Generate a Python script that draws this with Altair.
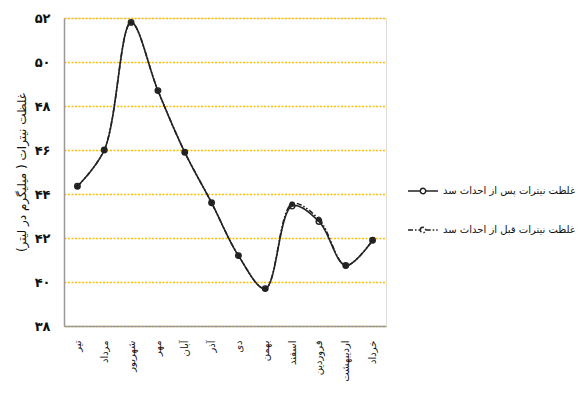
import altair as alt
import pandas as pd

# Months (Persian calendar), Tir through Khordad
months = ["تیر", "مرداد", "شهریور", "مهر", "آبان", "آذر",
          "دی", "بهمن", "اسفند", "فروردین", "اردیبهشت", "خرداد"]

# Nitrate concentration (mg/L)
after_dam = [44.35, 46.0, 51.8, 48.7, 45.9, 43.6, 41.2, 39.7, 43.45, 42.75, 40.75, 41.9]
before_dam = [44.35, 46.0, 51.8, 48.7, 45.9, 43.6, 41.2, 39.7, 43.55, 42.85, 40.75, 41.9]

series_after = "غلظت نیترات پس از احداث سد"
series_before = "غلظت نیترات قبل از احداث سد"

y_ticks = [38, 40, 42, 44, 46, 48, 50, 52]
y_tick_labels = ["۳۸", "۴۰", "۴۲", "۴۴", "۴۶", "۴۸", "۵۰", "۵۲"]

df = pd.DataFrame({
    "month": months * 2,
    "order": list(range(12)) * 2,
    "value": after_dam + before_dam,
    "series": [series_after] * 12 + [series_before] * 12,
})

label_map = "{" + ",".join(f"'{t}':'{l}'" for t, l in zip(y_ticks, y_tick_labels)) + "}"

FONT = "DejaVu Sans"
INK = "#222222"

x_enc = alt.X(
    "month:N", sort=months, title=None,
    scale=alt.Scale(paddingInner=0, paddingOuter=0.5),
    axis=alt.Axis(labelAngle=270, labelPadding=14, ticks=False,
                  domainColor="#999999", domainWidth=1.5,
                  labelFont=FONT, labelFontSize=10, labelColor="#111111",
                  grid=False),
)
y_enc = alt.Y(
    "value:Q", title="غلظت نیترات ( میلیگرم در لیتر)",
    scale=alt.Scale(domain=[38, 52], nice=False, zero=False),
    axis=alt.Axis(values=y_ticks, labelExpr=f"{label_map}[datum.label]",
                  ticks=False, labelPadding=14, domainColor="#999999", domainWidth=1.5,
                  labelFont=FONT, labelFontSize=13, labelFontWeight="bold",
                  labelColor="#111111",
                  titleFont=FONT, titleFontSize=12, titleFontWeight="normal",
                  titleColor="#111111", titlePadding=6,
                  grid=True, gridColor="#FFC000", gridDash=[2, 1.5], gridWidth=1.5),
)

# legend glyph: a short line with a small ring in the middle
legend_symbol = "M-1,0H-0.18M0.18,0H1M-0.18,0A0.18,0.18,0,1,1,0.18,0A0.18,0.18,0,1,1,-0.18,0Z"

lines = alt.Chart(df).mark_line(
    interpolate="catmull-rom", color=INK, strokeWidth=1.6
).encode(
    x=x_enc,
    y=y_enc,
    strokeDash=alt.StrokeDash(
        "series:N",
        scale=alt.Scale(domain=[series_after, series_before],
                        range=[[1, 0], [5, 2, 1.5, 2, 1.5, 2]]),
        legend=alt.Legend(
            title=None, orient="none", legendX=343, legendY=157,
            symbolType=legend_symbol, symbolSize=900, symbolStrokeWidth=1.5,
            symbolStrokeColor=INK, symbolFillColor="white",
            labelFont=FONT, labelFontSize=10, labelColor="#111111",
            labelOffset=4, rowPadding=17, labelLimit=300,
        ),
    ),
    order="order:Q",
)

star_path = "M-1,0L1,0M0,-1L0,1M-0.7,-0.7L0.7,0.7M-0.7,0.7L0.7,-0.7"

# markers: asterisks on the "before" series, rings on the "after" series
before_pts = alt.Chart(df).transform_filter(
    alt.datum.series == series_before
).mark_point(
    shape=star_path, filled=False, color=INK, strokeWidth=1.4, size=30, opacity=1
).encode(x=alt.X("month:N", sort=months), y="value:Q")

after_pts = alt.Chart(df).transform_filter(
    alt.datum.series == series_after
).mark_point(
    shape="circle", filled=False, color=INK, strokeWidth=1.4, size=30, opacity=1
).encode(x=alt.X("month:N", sort=months), y="value:Q")

chart = alt.layer(lines, before_pts, after_pts).properties(
    width=322, height=308,
    autosize=alt.AutoSizeParams(type="none"),
    padding={"left": 64, "top": 18, "right": 192, "bottom": 77},
).configure_view(stroke=None).configure(background="white")

chart.save("out.html", embed_options={"renderer": "svg", "actions": False})
